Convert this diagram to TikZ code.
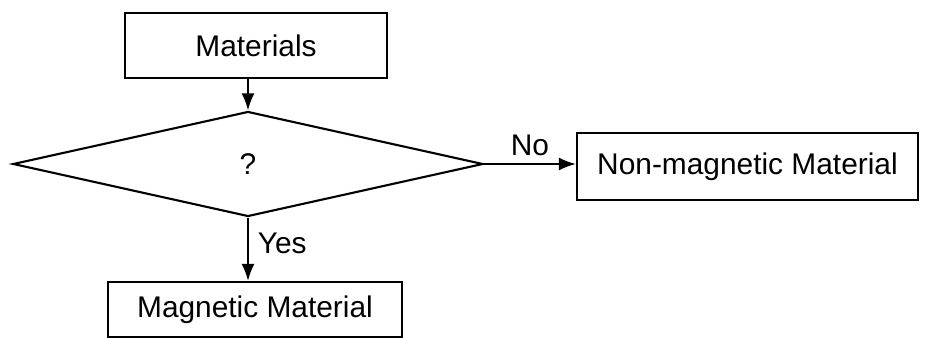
\documentclass[tikz,border=0pt]{standalone}
\usepackage{fontspec}
\setmainfont{Liberation Sans}
\usetikzlibrary{shapes.geometric, arrows.meta}

\begin{document}
\begin{tikzpicture}[>={Latex[length=3.4mm, width=2.6mm]}, line width=1.2pt,
  box/.style={draw, rectangle, inner sep=0pt},
  lbl/.style={font=\fontsize{17}{20}\selectfont}]
\useasboundingbox (0,0) rectangle (18.72,-6.76);
\node[box, lbl, minimum width=5.24cm, minimum height=1.3cm] (mat) at (5.12,-0.91) {Materials};
\node[draw, diamond, lbl, inner sep=0pt, minimum width=9.4cm, minimum height=2.1cm] (test) at (4.96,-3.28) {?};
\node[box, lbl, minimum width=6.82cm, minimum height=1.34cm] (nonmag) at (14.95,-3.33) {Non-magnetic Material};
\node[box, lbl, minimum width=5.88cm, minimum height=1.1cm] (mag) at (5.10,-6.19) {Magnetic Material};
\draw[->] (test.north |- mat.south) -- (test.north);
\draw[->] (test.east) -- node[above, lbl, inner sep=4pt] {No} (nonmag.west |- test.east);
\draw[->] (test.south) -- node[right, lbl, pos=0.4, inner sep=5pt] {Yes} (test.south |- mag.north);
\end{tikzpicture}
\end{document}
